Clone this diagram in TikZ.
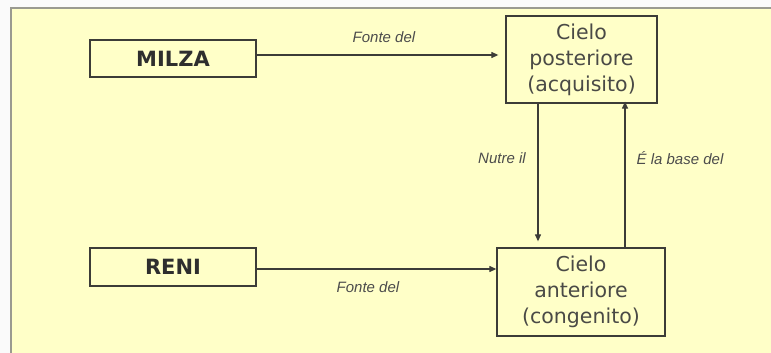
\documentclass[tikz,border=0pt]{standalone}
\usepackage{fontspec}
\setmainfont{DejaVu Sans}
\newfontfamily\lblfont{Liberation Sans}
\usetikzlibrary{arrows.meta,positioning}
\definecolor{bgyellow}{HTML}{FFFFC8}
\definecolor{framegray}{HTML}{9A9A90}
\definecolor{linegray}{HTML}{3C3C38}
\definecolor{txtgray}{HTML}{4A4A46}
\tikzset{
  boxA/.style={draw=linegray, line width=1.3pt, fill=bgyellow, inner sep=0pt, align=center, text=txtgray},
  smallbox/.style={boxA, font=\fontsize{21}{25}\selectfont\bfseries, text=black!82},
  bigbox/.style={boxA, font=\fontsize{20.5}{26}\selectfont},
  conn/.style={draw=linegray, line width=1.2pt, -{Triangle[length=7pt,width=6pt]}},
  lbl/.style={font=\lblfont\itshape\fontsize{15}{17}\selectfont, text=black!70, inner sep=0pt}
}
\begin{document}
\begin{tikzpicture}[x=1pt,y=-1pt]
\useasboundingbox (0,0) rectangle (771,353);
\fill[white!96!gray] (0,0) rectangle (771,353);
\fill[bgyellow] (11,8) rectangle (771,353);
\draw[framegray, line width=1.5pt] (11,353) -- (11,8) -- (771,8);
\node[smallbox, minimum width=166pt, minimum height=37pt] (milza) at (173,58.5) {MILZA};
\node[smallbox, minimum width=166pt, minimum height=38pt] (reni) at (173,267) {RENI};
\node[bigbox, minimum width=151pt, minimum height=87pt] (post) at (581.5,59.5) {Cielo\\posteriore\\(acquisito)};
\node[bigbox, minimum width=168pt, minimum height=88pt] (ant) at (581,292) {Cielo\\anteriore\\(congenito)};
\coordinate (xa) at (538,0);
\coordinate (xb) at (625,0);
\coordinate (ya) at (0,55);
\coordinate (yb) at (0,269);
\draw[conn, shorten >=7pt] (milza.east |- ya) -- (post.west |- ya);
\draw[conn] (reni.east |- yb) -- (ant.west |- yb);
\draw[conn, shorten >=6pt] (post.south -| xa) -- (ant.north -| xa);
\draw[conn, shorten >=-2pt] (ant.north -| xb) -- (post.south -| xb);
\node[lbl] (l1) at (384,37) {Fonte del};
\node[lbl] (l2) at (368,287) {Fonte del};
\node[lbl] (l3) at (502,158) {Nutre il};
\node[lbl] (l4) at (680,158) {É la base del};
\end{tikzpicture}
\end{document}
